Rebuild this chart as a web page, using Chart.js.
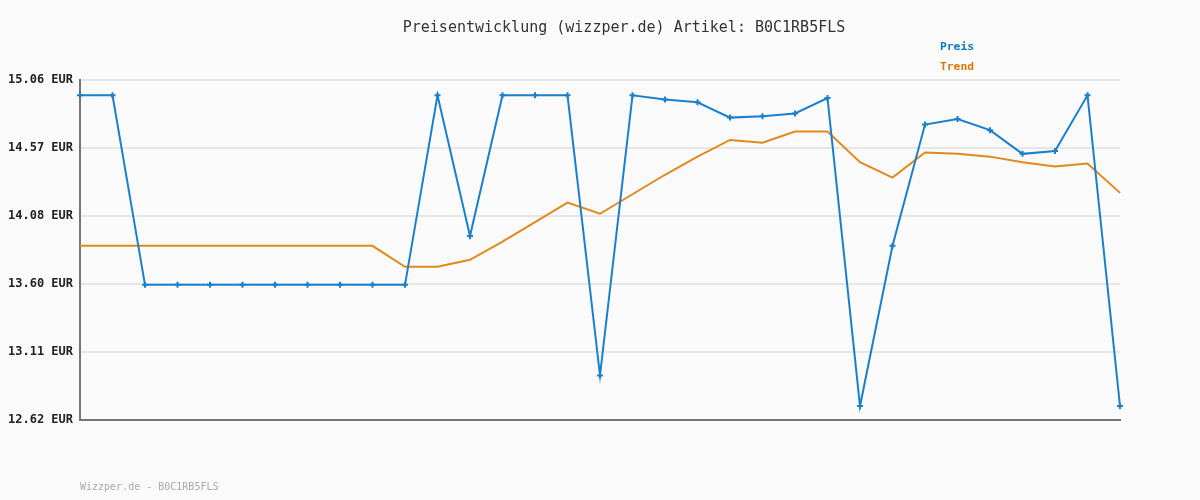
<!DOCTYPE html>
<html>
<head>
<meta charset="utf-8">
<script src="https://cdn.jsdelivr.net/npm/chart.js@4.4.1/dist/chart.umd.min.js"></script>
<style>
  html, body { margin: 0; padding: 0; background: #fafafa; }
  #wrap { width: 1200px; height: 500px; position: relative; }
</style>
</head>
<body>
<div id="wrap"><canvas id="chPrice" width="1200" height="500"></canvas></div>
<script>
// chart data
var labels = ['1', '2', '3', '4', '5', '6', '7', '8', '9', '10', '11', '12', '13', '14', '15', '16', '17',
              '18', '19', '20', '21', '22', '23', '24', '25', '26', '27', '28', '29', '30', '31', '32', '33'];
var preis = [14.95, 14.95, 13.59, 13.59, 13.59, 13.59, 13.59, 13.59, 13.59, 13.59, 13.59, 14.95, 13.94,
             14.95, 14.95, 14.95, 12.94, 14.95, 14.92, 14.90, 14.79, 14.80, 14.82, 14.93, 12.72, 13.87,
             14.74, 14.78, 14.70, 14.53, 14.55, 14.95, 12.72];
var trend = [13.87, 13.87, 13.87, 13.87, 13.87, 13.87, 13.87, 13.87, 13.87, 13.87, 13.72, 13.72, 13.77,
             13.90, 14.04, 14.18, 14.10, 14.24, 14.38, 14.51, 14.63, 14.61, 14.69, 14.69, 14.47, 14.36,
             14.54, 14.53, 14.51, 14.47, 14.44, 14.46, 14.25];
var yTicks = [12.62, 13.108, 13.596, 14.084, 14.572, 15.06];

var blue = '#1a80cc';
var orange = '#e0891c';
var mono = '"DejaVu Sans Mono", monospace';

// title, legend and footer
var textPlugin = {
    id: 'texts',
    afterDraw: function (chart) {
        var ctx = chart.ctx;
        ctx.save();
        ctx.textBaseline = 'middle';
        ctx.textAlign = 'center';
        ctx.fillStyle = '#333';
        ctx.font = '15px ' + mono;
        ctx.fillText('Preisentwicklung (wizzper.de) Artikel: B0C1RB5FLS', 624, 28);
        ctx.textAlign = 'left';
        ctx.font = 'bold 11.3px ' + mono;
        ctx.fillStyle = '#0a78c2';
        ctx.fillText('Preis', 940, 47);
        ctx.fillStyle = '#dd7700';
        ctx.fillText('Trend', 940, 67);
        ctx.font = '10px ' + mono;
        ctx.fillStyle = '#aaa';
        ctx.fillText('Wizzper.de - B0C1RB5FLS', 80, 487);
        ctx.restore();
    }
};

var el = document.getElementById('chPrice');
if (el) {
    new Chart(el, {
        type: 'line',
        data: {
            labels: labels,
            datasets: [
                {
                    label: 'Preis',
                    data: preis,
                    borderColor: blue,
                    backgroundColor: blue,
                    borderWidth: 2,
                    pointStyle: 'cross',
                    pointRadius: 3,
                    pointBorderWidth: 2,
                    tension: 0,
                    clip: false,
                    order: 1
                },
                {
                    label: 'Trend',
                    data: trend,
                    borderColor: orange,
                    borderWidth: 2,
                    pointRadius: 0,
                    tension: 0,
                    order: 2
                }
            ]
        },
        options: {
            responsive: false,
            animation: false,
            layout: { padding: { top: 80, right: 80, bottom: 80, left: 0 } },
            plugins: {
                legend: { display: false },
                title: { display: false },
                tooltip: { enabled: false }
            },
            scales: {
                x: {
                    offset: false,
                    grid: { display: false },
                    border: { display: true, color: '#777', width: 2 },
                    ticks: { display: false },
                    afterFit: function (s) { s.height = 0; }
                },
                y: {
                    min: 12.62,
                    max: 15.06,
                    afterBuildTicks: function (s) {
                        s.ticks = yTicks.map(function (v) { return { value: v }; });
                    },
                    afterFit: function (s) { s.width = 80; },
                    grid: { color: '#e6e6e6', lineWidth: 2, drawTicks: false },
                    border: { display: true, color: '#777', width: 2 },
                    ticks: {
                        padding: 7,
                        color: '#222',
                        font: { family: mono, size: 12, weight: 'bold' },
                        callback: function (v) { return v.toFixed(2) + ' EUR'; }
                    }
                }
            }
        },
        plugins: [textPlugin]
    });
}
</script>
</body>
</html>
